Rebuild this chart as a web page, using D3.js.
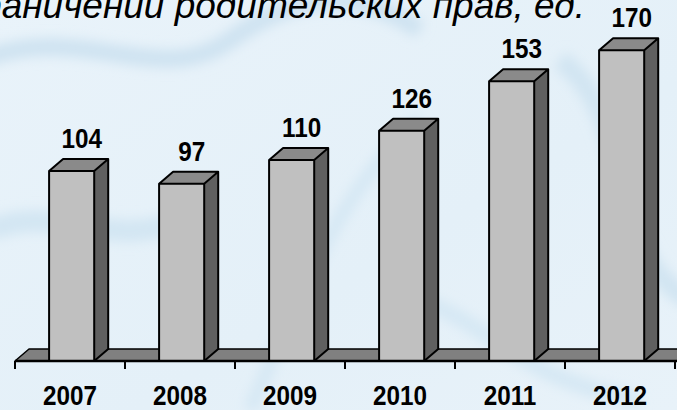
<!DOCTYPE html>
<html>
<head>
<meta charset="utf-8">
<script src="https://cdn.jsdelivr.net/npm/d3@7"></script>
<style>
  body { margin: 0; overflow: hidden; }
  svg { display: block; }
</style>
</head>
<body>
<svg width="677" height="410"></svg>
<script>
  // data
  var years = ["2007", "2008", "2009", "2010", "2011", "2012"];
  var counts = [104, 97, 110, 126, 153, 170];
  var titleLine = "ограничений родительских прав, ед.";

  var cFront = "#c0c0c0";
  var cTop = "#8a8a8a";
  var cSide = "#606060";
  var cFloor = "#808080";
  var dx = 14, dy = 12; // 3d depth

  var svg = d3.select("svg");

  // background
  var defs = svg.append("defs");
  var grad = defs.append("linearGradient").attr("id", "bg")
    .attr("x1", 0).attr("y1", 0).attr("x2", 1).attr("y2", 1);
  grad.append("stop").attr("offset", "0%").attr("stop-color", "#e9f3fa");
  grad.append("stop").attr("offset", "60%").attr("stop-color", "#e4f0f8");
  grad.append("stop").attr("offset", "100%").attr("stop-color", "#e8f2f9");
  defs.append("filter").attr("id", "blur")
    .append("feGaussianBlur").attr("stdDeviation", 6);

  svg.append("rect").attr("width", 677).attr("height", 410).attr("fill", "url(#bg)");

  // soft swirls in the background
  var swirls = svg.append("g").attr("filter", "url(#blur)").attr("fill", "none");
  swirls.append("path").attr("d", "M-20,60 C80,20 160,90 230,40 S360,-10 420,30")
    .attr("stroke", "#cfe3f1").attr("stroke-width", 18);
  swirls.append("path").attr("d", "M-10,230 C60,200 120,260 200,210")
    .attr("stroke", "#d3e6f3").attr("stroke-width", 22);
  swirls.append("path").attr("d", "M250,410 C300,300 330,200 420,120")
    .attr("stroke", "#d6e8f4").attr("stroke-width", 14);
  swirls.append("path").attr("d", "M560,60 C640,120 600,250 690,300")
    .attr("stroke", "#d2e5f2").attr("stroke-width", 20);
  swirls.append("path").attr("d", "M420,300 C500,330 520,380 640,400")
    .attr("stroke", "#d6e8f4").attr("stroke-width", 16);

  // scales
  var x = d3.scaleBand().domain(years).range([15, 675]);
  var y = d3.scaleLinear().domain([0, 180]).range([361, 32]);
  var bw = x.bandwidth();
  var barW = bw * 0.41;
  var barOff = bw * 0.31;
  var base = y(0);

  // title (only the end of its last line is in the frame)
  svg.append("text")
    .attr("x", 585).attr("y", 18)
    .attr("text-anchor", "end")
    .attr("font-family", "Liberation Sans, Arial, sans-serif")
    .attr("font-style", "italic")
    .attr("font-size", 37)
    .attr("fill", "#000")
    .text(titleLine);

  // floor
  var x0 = x.range()[0], x1 = x.range()[1];
  svg.append("polygon")
    .attr("points", [[x0, base], [x0 + dx, base - dy], [x1 + dx + 20, base - dy], [x1 + 20, base]].join(" "))
    .attr("fill", cFloor)
    .attr("stroke", "#000")
    .attr("stroke-width", 1.5)
    .attr("stroke-linejoin", "round");

  // bars
  var bars = svg.append("g").selectAll("g")
    .data(years.map(function(yr, i){ return {year: yr, count: counts[i]}; }))
    .enter().append("g");

  bars.append("polygon") // side
    .attr("points", function(d){
      var l = x(d.year) + barOff + barW, t = y(d.count);
      return [[l, base], [l + dx, base - dy], [l + dx, t - dy], [l, t]].join(" ");
    })
    .attr("fill", cSide);

  bars.append("polygon") // top
    .attr("points", function(d){
      var l = x(d.year) + barOff, t = y(d.count);
      return [[l, t], [l + dx, t - dy], [l + barW + dx, t - dy], [l + barW, t]].join(" ");
    })
    .attr("fill", cTop);

  bars.append("rect") // front
    .attr("x", function(d){ return x(d.year) + barOff; })
    .attr("y", function(d){ return y(d.count); })
    .attr("width", barW)
    .attr("height", function(d){ return base - y(d.count); })
    .attr("fill", cFront);

  // outlines on top of faces
  bars.append("path")
    .attr("d", function(d){
      var l = x(d.year) + barOff, r = l + barW, t = y(d.count);
      return "M" + l + "," + base + "V" + t + "L" + (l + dx) + "," + (t - dy) +
        "H" + (r + dx) + "V" + (base - dy) + "L" + r + "," + base + "Z" +
        "M" + l + "," + t + "H" + r + "L" + (r + dx) + "," + (t - dy) +
        "M" + r + "," + t + "V" + base;
    })
    .attr("fill", "none")
    .attr("stroke", "#000")
    .attr("stroke-width", 2)
    .attr("stroke-linejoin", "round");

  // value labels
  bars.append("text")
    .attr("transform", function(d){
      var cx = x(d.year) + barOff + barW / 2 + dx / 2 + 3;
      return "translate(" + cx + "," + (y(d.count) - dy - 11) + ") scale(0.9,1)";
    })
    .attr("text-anchor", "middle")
    .attr("font-family", "Liberation Sans, Arial, sans-serif")
    .attr("font-weight", "bold")
    .attr("font-size", 27)
    .text(function(d){ return d.count; });

  // axis line and ticks
  var axis = svg.append("g");
  axis.append("line")
    .attr("x1", x0).attr("x2", 677).attr("y1", base).attr("y2", base)
    .attr("stroke", "#000").attr("stroke-width", 2.5);
  axis.selectAll("line.tick")
    .data(years.concat(["end"]))
    .enter().append("line")
    .attr("class", "tick")
    .attr("x1", function(d, i){ return x0 + i * bw; })
    .attr("x2", function(d, i){ return x0 + i * bw; })
    .attr("y1", base).attr("y2", base + 8)
    .attr("stroke", "#000").attr("stroke-width", 2);

  // year labels
  axis.selectAll("text")
    .data(years)
    .enter().append("text")
    .attr("transform", function(d){
      return "translate(" + (x(d) + bw / 2) + ",405) scale(0.9,1)";
    })
    .attr("text-anchor", "middle")
    .attr("font-family", "Liberation Sans, Arial, sans-serif")
    .attr("font-weight", "bold")
    .attr("font-size", 27)
    .text(function(d){ return d; });
</script>
</body>
</html>
